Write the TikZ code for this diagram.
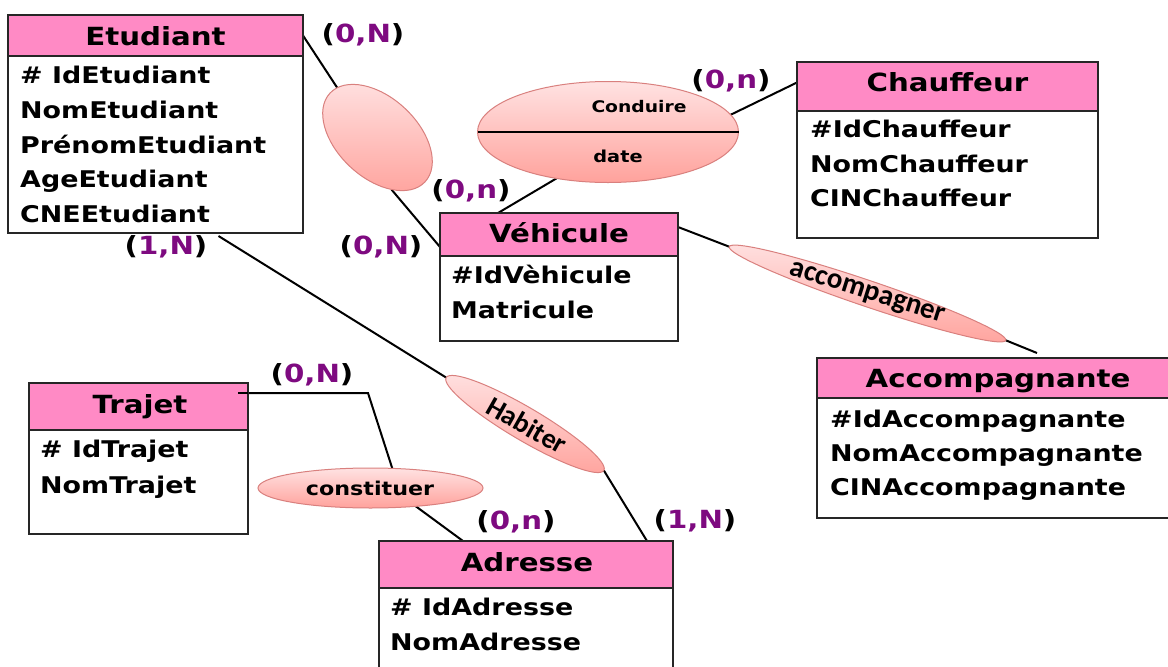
\documentclass[tikz,border=0pt]{standalone}
\usepackage{fontspec}
\setmainfont{DejaVu Sans}[FakeStretch=1.17]
\newfontfamily\carl{Carlito}
\usetikzlibrary{shapes.geometric,calc}
\definecolor{hdrpink}{HTML}{FF8AC5}
\definecolor{boxline}{HTML}{262626}
\definecolor{cardpurple}{HTML}{7E0A80}
\definecolor{ellTop}{HTML}{FFE2E2}
\definecolor{ellBot}{HTML}{FFA29C}
\definecolor{ellEdge}{HTML}{D9807E}
\newcommand\card[2]{(\textcolor{cardpurple}{#1,#2})}
\pgfdeclarelayer{bg}
\pgfsetlayers{bg,main}
\begin{document}
\begin{tikzpicture}[x=1pt,y=-1pt,
 hdr/.style={draw=boxline, line width=2.5pt, fill=hdrpink, inner sep=0pt, outer sep=0pt},
 bodybox/.style={draw=boxline, line width=2.5pt, fill=white, inner sep=0pt, outer sep=0pt},
 ttl/.style={anchor=base, inner sep=0pt, font=\bfseries\fontsize{25}{30}\selectfont},
 attr/.style={anchor=base west, inner sep=0pt, font=\bfseries\fontsize{23}{28}\selectfont},
 card/.style={inner sep=0pt, font=\bfseries\fontsize{25}{30}\selectfont},
 rel/.style={ellipse, draw=ellEdge, line width=1pt, top color=ellTop, bottom color=ellBot, inner sep=0pt, outer sep=0pt},
 reltxt/.style={inner sep=0pt},
 conn/.style={draw=black, line width=2pt}
]
\useasboundingbox (0,0) rectangle (1168,667);
\begin{pgfonlayer}{bg}
\fill[white] (0,0) rectangle (1168,667);
\end{pgfonlayer}

% ---------- Etudiant ----------
\node[hdr, minimum width=295pt, minimum height=41pt] (etuH) at (155.5,35.5) {};
\node[bodybox, minimum width=295pt, minimum height=177pt, anchor=north] (etuB) at (etuH.south) {};
\node[ttl] (etuT) at (155.5,45) {Etudiant};
\node[attr] (etuA1) at (20,83) {\# IdEtudiant};
\node[attr] (etuA2) at (20,118) {NomEtudiant};
\node[attr] (etuA3) at (20,153) {PrénomEtudiant};
\node[attr] (etuA4) at (20,187.5) {AgeEtudiant};
\node[attr] (etuA5) at (20,222) {CNEEtudiant};

% ---------- Chauffeur ----------
\node[hdr, minimum width=301pt, minimum height=49pt] (chH) at (947.5,86.5) {};
\node[bodybox, minimum width=301pt, minimum height=127pt, anchor=north] (chB) at (chH.south) {};
\node[ttl] (chT) at (947.5,91) {Chauffeur};
\node[attr] (chA1) at (810,137) {\#IdChauffeur};
\node[attr] (chA2) at (810,172) {NomChauffeur};
\node[attr] (chA3) at (810,206) {CINChauffeur};

% ---------- Vehicule ----------
\node[hdr, minimum width=238pt, minimum height=43pt] (vehH) at (559,234.5) {};
\node[bodybox, minimum width=238pt, minimum height=85pt, anchor=north] (vehB) at (vehH.south) {};
\node[ttl] (vehT) at (559,242) {Véhicule};
\node[attr] (vehA1) at (451,283) {\#IdVèhicule};
\node[attr] (vehA2) at (451,318) {Matricule};

% ---------- Accompagnante ----------
\node[hdr, minimum width=362pt, minimum height=40pt] (accH) at (998,378) {};
\node[bodybox, minimum width=362pt, minimum height=120pt, anchor=north] (accB) at (accH.south) {};
\node[ttl] (accT) at (998,387) {Accompagnante};
\node[attr] (accA1) at (830,427) {\#IdAccompagnante};
\node[attr] (accA2) at (830,461) {NomAccompagnante};
\node[attr] (accA3) at (830,495) {CINAccompagnante};

% ---------- Trajet ----------
\node[hdr, minimum width=219pt, minimum height=47pt] (trH) at (138.5,406.5) {};
\node[bodybox, minimum width=219pt, minimum height=104pt, anchor=north] (trB) at (trH.south) {};
\node[ttl] (trT) at (140,413) {Trajet};
\node[attr] (trA1) at (40,457) {\# IdTrajet};
\node[attr] (trA2) at (40,493) {NomTrajet};

% ---------- Adresse ----------
\node[hdr, minimum width=294pt, minimum height=47pt] (adrH) at (526,564.5) {};
\node[bodybox, minimum width=294pt, minimum height=110pt, anchor=north] (adrB) at (adrH.south) {};
\node[ttl] (adrT) at (527,571) {Adresse};
\node[attr] (adrA1) at (390,615) {\# IdAdresse};
\node[attr] (adrA2) at (390,650) {NomAdresse};

% ---------- relations ----------
\node[rel, rotate=-43, minimum width=130pt, minimum height=80pt] (ev) at (377.5,137.5) {};

\node[rel, minimum width=261pt, minimum height=101pt] (cond) at (608,132) {};
\draw[conn] (cond.west) -- (cond.east);
\node[reltxt, font=\bfseries\fontsize{16}{19}\selectfont] (condT) at (639,107) {Conduire};
\node[reltxt, font=\bfseries\fontsize{16.5}{19}\selectfont] (condD) at (618,156) {date};

\node[rel, rotate=-18.7, minimum width=292pt, minimum height=26pt] (acc) at (867.5,293.5) {};
\node[reltxt, rotate=-17.5, font=\carl\bfseries\fontsize{29}{33}\selectfont] (accTx) at (867,294) {accompagner};

\node[rel, rotate=-30.5, minimum width=183pt, minimum height=33pt] (hab) at (525,424) {};
\node[reltxt, rotate=-29.5, font=\carl\bfseries\fontsize{28}{32}\selectfont] (habTx) at (527,425) {Habiter};

\node[rel, minimum width=225pt, minimum height=40pt] (cons) at (370.5,488) {};
\node[reltxt, font=\bfseries\fontsize{19}{23}\selectfont] (consTx) at (370,488) {constituer};

% ---------- cardinalities ----------
\node[card] (c1) at (363,35) {\card{0}{N}};
\node[card] (c2) at (731,81) {\card{0}{n}};
\node[card] (c3) at (471,191) {\card{0}{n}};
\node[card] (c4) at (381,247) {\card{0}{N}};
\node[card] (c5) at (166,247) {\card{1}{N}};
\node[card] (c6) at (312,375) {\card{0}{N}};
\node[card] (c7) at (516,522) {\card{0}{n}};
\node[card] (c8) at (695,521) {\card{1}{N}};

% ---------- connectors ----------
\coordinate (bend) at (368,393);
\draw[conn] ([xshift=-10pt,yshift=13.5pt]trH.east) -- ([yshift=13.5pt]trH.east);
\begin{pgfonlayer}{bg}
\draw[conn] (etuH.east) -- (ev.172);
\draw[conn] (ev.-32) -- ([yshift=9pt]vehH.south west);
\draw[conn] (cond.8) -- ([yshift=4pt]chH.west);
\draw[conn] (cond.-138) -- ([xshift=-61pt]vehH.north);
\draw[conn] ([yshift=7.5pt]vehH.east) -- (acc.west);
\draw[conn] (acc.east) -- ([xshift=39pt,yshift=5pt]accH.north);
\draw[conn] ([xshift=63pt,yshift=-3pt]etuB.south) -- (hab.west);
\draw[conn] (hab.east) -- ([xshift=121pt]adrH.north);
\draw[conn] ([yshift=13.5pt]trH.east) -- (bend) -- (cons.42);
\draw[conn] (cons.-22) -- ([xshift=-63pt]adrH.north);
\end{pgfonlayer}
\end{tikzpicture}
\end{document}
